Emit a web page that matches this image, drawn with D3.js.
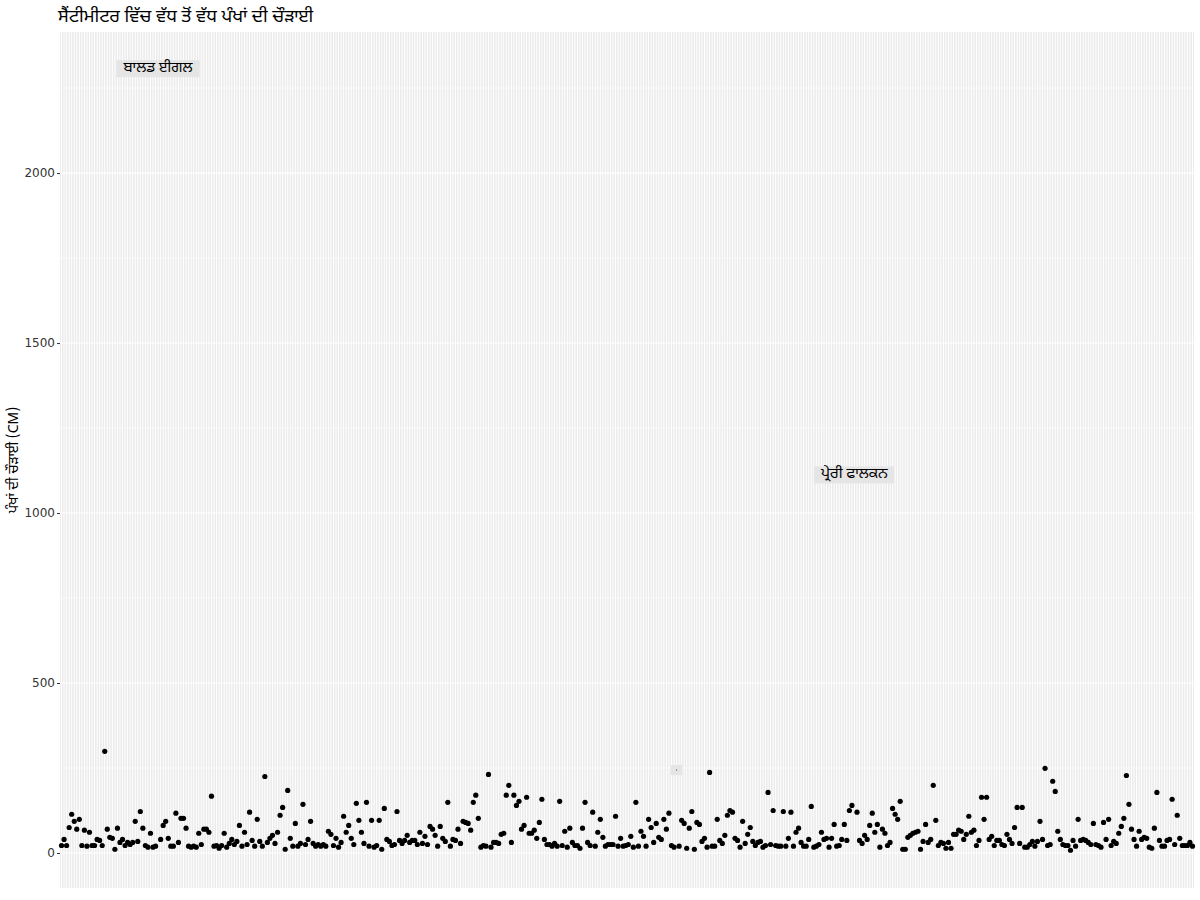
<!DOCTYPE html>
<html>
<head>
<meta charset="utf-8">
<script src="https://cdn.jsdelivr.net/npm/d3@7"></script>
<style>
  html, body { margin: 0; padding: 0; background: #ffffff; }
  svg { display: block; }
  text { font-family: "Noto Sans Gurmukhi", "Noto Sans", "DejaVu Sans", sans-serif; }
</style>
</head>
<body>
<svg id="chart" width="1200" height="900"></svg>
<script>
// Max wingspan (cm) per bird, in x (category) order; null = category that only carries a label
const wingspan = [
  22,40,22,75,114,93,70,99,22,67,20,61,22,22,40,37,22,299,70,46,43,11,73,31,40,22,31,25,31,93,34,122,73,22,17,58,17,20,null,40,81,93,43,20,20,117,31,102,102,73,20,17,20,17,58,25,70,
  70,61,167,20,22,14,22,58,17,28,40,25,34,81,20,61,25,120,37,20,99,34,20,225,31,43,52,28,61,111,134,11,184,43,20,87,20,28,143,25,40,93,28,20,25,20,25,20,64,55,22,43,17,31,108,61,
  81,43,25,146,96,61,28,149,20,96,17,22,96,11,131,40,34,22,25,122,37,28,37,52,31,37,37,25,61,28,49,25,78,70,52,20,78,43,34,149,20,40,37,70,28,93,90,87,67,149,170,102,17,22,
  20,231,17,31,31,28,55,58,170,199,31,170,140,152,70,81,164,58,58,67,43,90,158,40,25,25,20,28,20,152,22,64,17,73,31,22,22,14,73,149,31,22,120,20,61,99,46,20,25,25,25,108,20,43,20,
  22,25,49,17,149,20,64,49,20,99,75,31,87,46,40,99,70,117,22,17,null,20,96,87,14,73,122,11,90,84,34,43,17,237,20,20,99,37,28,52,111,125,120,43,37,17,93,28,55,75,34,22,31,34,17,22,
  178,25,125,22,20,20,122,20,43,120,20,61,73,31,20,20,40,137,17,20,25,61,40,43,17,43,84,20,22,40,84,37,125,140,null,120,37,28,52,40,81,117,61,84,17,70,58,22,31,131,114,99,152,11,
  11,46,52,58,61,64,11,34,84,31,40,199,96,22,31,28,14,31,14,55,55,67,64,40,55,108,61,67,22,37,164,99,164,40,49,22,37,37,25,22,55,40,28,75,134,28,134,17,17,25,34,20,34,93,40,249,
  22,25,211,181,64,40,25,22,22,8,37,20,99,37,40,37,31,25,87,25,22,17,90,40,99,22,34,28,58,78,102,228,143,70,40,20,64,40,46,43,17,14,73,178,37,20,20,37,40,158,25,111,43,22,22,22,31,20
];

// Labels, in the order of the null categories above
const labelText = ["ਬਾਲਡ ਈਗਲ", "", "ਪ੍ਰੇਰੀ ਫਾਲਕਨ"];
const labelValue = [2307, 244, 1112];

const yTicks = [0, 500, 1000, 1500, 2000];
const yMinor = [250, 750, 1250, 1750, 2250];
const yDomain = [-103, 2415];

const titleText = "ਸੈਂਟੀਮੀਟਰ ਵਿੱਚ ਵੱਧ ਤੋਂ ਵੱਧ ਪੰਖਾਂ ਦੀ ਚੌੜਾਈ";
const yTitleText = "ਪੰਖਾਂ ਦੀ ਚੌੜਾਈ (CM)";

const svg = d3.select("#chart");
const panel = { left: 60, right: 1194, top: 32, bottom: 888 };

const categories = d3.range(wingspan.length);
const x = d3.scalePoint().domain(categories).range([panel.left, panel.right]).padding(0.6);
const y = d3.scaleLinear().domain(yDomain).range([panel.bottom, panel.top]);

// panel background
svg.append("rect")
  .attr("x", panel.left).attr("y", panel.top)
  .attr("width", panel.right - panel.left).attr("height", panel.bottom - panel.top)
  .attr("fill", "#EBEBEB");

const grid = svg.append("g");
grid.selectAll("line.minor").data(yMinor).join("line")
  .attr("x1", panel.left).attr("x2", panel.right)
  .attr("y1", d => y(d)).attr("y2", d => y(d))
  .attr("stroke", "#ffffff").attr("stroke-width", 0.55);
grid.selectAll("line.majorY").data(yTicks).join("line")
  .attr("x1", panel.left).attr("x2", panel.right)
  .attr("y1", d => y(d)).attr("y2", d => y(d))
  .attr("stroke", "#ffffff").attr("stroke-width", 1.1);
grid.selectAll("line.majorX").data(categories).join("line")
  .attr("x1", d => x(d)).attr("x2", d => x(d))
  .attr("y1", panel.top).attr("y2", panel.bottom)
  .attr("stroke", "#ffffff").attr("stroke-width", 1.0);

// y axis
const yAxis = d3.axisLeft(y).tickValues(yTicks).tickSize(3).tickPadding(2).tickFormat(d3.format("d"));
const gy = svg.append("g").attr("transform", `translate(${panel.left},0)`).call(yAxis);
gy.select(".domain").remove();
gy.selectAll(".tick line").attr("stroke", "#333333");
gy.selectAll(".tick text")
  .style("font-family", "'DejaVu Sans', sans-serif")
  .style("font-size", "12px")
  .attr("fill", "#333333");

// points
const pts = wingspan.map((v, i) => ({ i, v })).filter(d => d.v !== null);
svg.append("g").selectAll("circle").data(pts).join("circle")
  .attr("cx", d => x(d.i)).attr("cy", d => y(d.v))
  .attr("r", 2.6).attr("fill", "#000000");

// labels
const labelCats = wingspan.map((v, i) => v === null ? i : -1).filter(i => i >= 0);
const labelData = labelCats.map((c, k) => ({ c, text: labelText[k], v: labelValue[k] }));
const lg = svg.append("g");
labelData.forEach(d => {
  const g = lg.append("g");
  const rect = g.append("rect").attr("fill", "#E5E5E5");
  const t = g.append("text")
    .attr("x", x(d.c)).attr("y", y(d.v))
    .attr("text-anchor", "middle").attr("dominant-baseline", "central")
    .style("font-size", "15px").attr("fill", "#000000")
    .text(d.text);
  if (d.text) {
    const bb = t.node().getBBox();
    rect.attr("x", bb.x - 6).attr("y", y(d.v) - 8.5).attr("width", bb.width + 12).attr("height", 17);
  } else {
    rect.attr("x", x(d.c) - 5.5).attr("y", y(d.v) - 5).attr("width", 11).attr("height", 10);
    g.append("rect").attr("x", x(d.c) - 0.5).attr("y", y(d.v) - 0.5).attr("width", 1).attr("height", 1).attr("fill", "#444444");
  }
});

// title
svg.append("text")
  .attr("x", 58).attr("y", 17)
  .attr("dominant-baseline", "central")
  .style("font-size", "18px").attr("fill", "#000000")
  .text(titleText);

// y axis title
svg.append("text")
  .attr("transform", `translate(14, ${(panel.top + panel.bottom) / 2}) rotate(-90)`)
  .attr("text-anchor", "middle").attr("dominant-baseline", "central")
  .style("font-size", "14px").attr("fill", "#000000")
  .text(yTitleText);
</script>
</body>
</html>
